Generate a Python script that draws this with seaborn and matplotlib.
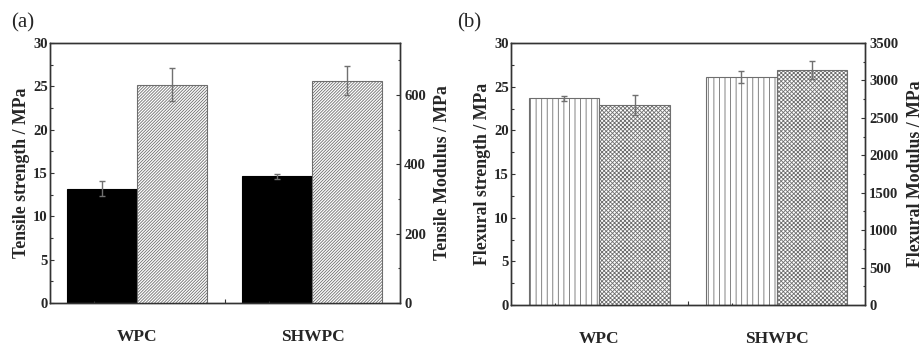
import numpy as np
import pandas as pd
import matplotlib
matplotlib.use("Agg")
import matplotlib.pyplot as plt
from matplotlib.ticker import MultipleLocator
import seaborn as sns

# Mechanical properties of the two composites
categories = ["WPC", "SHWPC"]

tensile_strength = [13.2, 14.6]
tensile_strength_err = [0.9, 0.25]
tensile_modulus = [630, 641]
tensile_modulus_err = [47, 42]

flexural_strength = [23.65, 26.1]
flexural_strength_err = [0.3, 0.7]
flexural_modulus = [2670, 3140]
flexural_modulus_err = [135, 125]

series_order = ["strength", "modulus"]

sns.set_theme(style="ticks")
plt.rcParams["font.family"] = ["Liberation Serif", "DejaVu Serif"]
plt.rcParams["font.weight"] = "bold"
plt.rcParams["axes.labelweight"] = "bold"
plt.rcParams["hatch.linewidth"] = 0.6
plt.rcParams["axes.axisbelow"] = False

EDGE = "#6e6e6e"
ERR = "#707070"
SPINE = "#333333"


def frame(series, values):
    return pd.DataFrame({
        "category": categories,
        "series": [series] * len(categories),
        "value": list(values),
    })


def draw_pair(ax, left_vals, left_err, right_vals, right_err,
              left_style, right_style, right_max, right_major, right_minor,
              left_label, right_label):
    ax2 = ax.twinx()
    for axis, series, vals, errs, style in (
        (ax, "strength", left_vals, left_err, left_style),
        (ax2, "modulus", right_vals, right_err, right_style),
    ):
        sns.barplot(data=frame(series, vals), x="category", y="value",
                    hue="series", hue_order=series_order, order=categories,
                    width=0.8, dodge=True, errorbar=None, legend=False,
                    ax=axis)
        bars = sorted(axis.patches, key=lambda p: p.get_x())
        for p in bars:
            p.set_facecolor(style["face"])
            p.set_edgecolor(style["edge"])
            p.set_hatch(style["hatch"])
            p.set_linewidth(0.8)
        xc = [p.get_x() + p.get_width() / 2 for p in bars]
        axis.errorbar(xc, vals, yerr=errs, fmt="none", ecolor=ERR,
                      elinewidth=1.0, capsize=2.3, capthick=1.0, zorder=5)

    ax.set_xlim(-0.5, 1.5)
    ax.set_ylim(0, 30)
    ax.yaxis.set_major_locator(MultipleLocator(5))
    ax.yaxis.set_minor_locator(MultipleLocator(2.5))
    ax.set_xticks([0, 0.5, 1])
    ax.set_xticklabels(["WPC", "", "SHWPC"], fontsize=12.5, fontweight="bold")
    ax.set_xticks([-0.25, 0.25, 0.75, 1.25], minor=True)
    ax.set_xlabel("")
    ax.set_ylabel(left_label, fontsize=12.8, fontweight="bold", labelpad=2)
    ax.tick_params(axis="x", which="major", direction="in", length=3,
                   width=0.8, color=SPINE, pad=19, top=False)
    ax.tick_params(axis="x", which="minor", direction="in", length=1.8,
                   width=0.8, color=SPINE, top=False)
    ax.tick_params(axis="y", which="major", direction="in", length=3,
                   width=0.8, color=SPINE, pad=1.5, labelsize=10.5,
                   right=False)
    ax.tick_params(axis="y", which="minor", direction="in", length=1.8,
                   width=0.8, color=SPINE, right=False)
    for lab in ax.get_yticklabels():
        lab.set_fontweight("bold")

    ax2.set_xlim(-0.5, 1.5)
    ax2.set_ylim(0, right_max)
    ax2.yaxis.set_major_locator(MultipleLocator(right_major))
    ax2.yaxis.set_minor_locator(MultipleLocator(right_minor))
    ax2.set_xlabel("")
    ax2.set_ylabel(right_label, fontsize=12.8, fontweight="bold", labelpad=6)
    ax2.tick_params(axis="y", which="major", direction="in", length=3,
                    width=0.8, color=SPINE, pad=3, labelsize=10.5)
    ax2.tick_params(axis="y", which="minor", direction="in", length=1.8,
                    width=0.8, color=SPINE)
    for lab in ax2.get_yticklabels():
        lab.set_fontweight("bold")

    for a in (ax, ax2):
        for s in a.spines.values():
            s.set_visible(True)
            s.set_color(SPINE)
            s.set_linewidth(1.0)
    return ax2


fig = plt.figure(figsize=(9.22, 3.46), dpi=100)
ax_a = fig.add_axes([0.0542, 0.1243, 0.3796, 0.7514])
ax_b = fig.add_axes([0.5542, 0.1185, 0.3840, 0.7572])

solid = {"face": "black", "edge": "black", "hatch": None}
diagonal = {"face": "white", "edge": EDGE, "hatch": "/" * 11}
vertical = {"face": "white", "edge": EDGE, "hatch": "|||"}
cross = {"face": "white", "edge": EDGE, "hatch": "x" * 8}

draw_pair(ax_a, tensile_strength, tensile_strength_err,
          tensile_modulus, tensile_modulus_err,
          solid, diagonal, 750, 200, 100,
          "Tensile strength / MPa", "Tensile Modulus / MPa")
draw_pair(ax_b, flexural_strength, flexural_strength_err,
          flexural_modulus, flexural_modulus_err,
          vertical, cross, 3500, 500, 250,
          "Flexural strength / MPa", "Flexural Modulus / MPa")

fig.text(0.012, 0.935, "(a)", fontsize=15, fontweight="normal",
         va="center", ha="left")
fig.text(0.496, 0.935, "(b)", fontsize=15, fontweight="normal",
         va="center", ha="left")

fig.savefig("out.png", dpi=100, facecolor="white")
